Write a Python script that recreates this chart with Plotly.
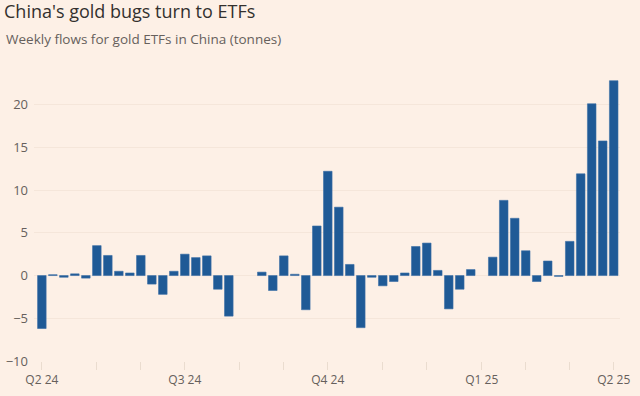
import plotly.graph_objects as go
import datetime as dt

# Weekly dates (Tuesdays) from 2 Apr 2024 to 1 Apr 2025
start = dt.date(2024, 4, 2)
weeks = [(start + dt.timedelta(days=7 * i)).isoformat() for i in range(53)]

flows = [
    -6.2, 0.1, -0.2, 0.2, -0.3, 3.5, 2.35, 0.5, 0.3, 2.35,
    -1.0, -2.2, 0.5, 2.5, 2.1, 2.3, -1.6, -4.75, None, None,
    0.4, -1.75, 2.3, 0.15, -4.0, 5.8, 12.2, 8.0, 1.3, -6.1,
    -0.2, -1.2, -0.7, 0.3, 3.4, 3.8, 0.6, -3.9, -1.6, 0.7,
    None, 2.15, 8.8, 6.7, 2.9, -0.7, 1.7, -0.1, 4.0, 11.9,
    20.1, 15.75, 22.8,
]

tick_dates = ["2024-04-02", "2024-05-07", "2024-06-04", "2024-07-02", "2024-08-06",
              "2024-09-03", "2024-10-01", "2024-11-05", "2024-12-03", "2025-01-07",
              "2025-02-04", "2025-03-04", "2025-04-01"]
tick_labels = ["Q2 24", "", "", "Q3 24", "", "", "Q4 24", "", "", "Q1 25", "", "", "Q2 25"]

y_ticks = [-10, -5, 0, 5, 10, 15, 20]

bg = "#fdf0e6"
L, R, T, B = 34, 20, 79, 35
plot_w = 640 - L - R

fig = go.Figure()
fig.add_trace(go.Bar(
    x=weeks, y=flows,
    marker=dict(color="#1f5a96", line=dict(color="#3b6fa6", width=0.6)),
    width=[7 * 24 * 3600 * 1000 * 0.78] * len(weeks),
))

fig.update_layout(
    width=640, height=396,
    paper_bgcolor=bg, plot_bgcolor=bg,
    margin=dict(l=L, r=R, t=T, b=B, autoexpand=False),
    showlegend=False,
    font=dict(family="Open Sans, sans-serif"),
    title=dict(
        text="China's gold bugs turn to ETFs",
        x=4 / 640, xref="container", xanchor="left",
        y=1 - 12 / 396, yref="container", yanchor="middle",
        font=dict(size=18, color="#33302e"),
    ),
)

fig.add_annotation(
    text="Weekly flows for gold ETFs in China (tonnes)",
    xref="paper", yref="paper", x=(4 - L) / plot_w, y=1.0,
    xanchor="left", yanchor="bottom", yshift=29,
    showarrow=False, font=dict(size=13.5, color="#66605c"),
)

fig.update_xaxes(
    type="date", automargin=False,
    range=["2024-03-28", "2025-04-05"],
    tickvals=tick_dates, ticktext=tick_labels,
    ticks="outside", ticklen=8, tickcolor="#eadccf", tickwidth=1,
    showgrid=False, showline=False, zeroline=False,
    tickfont=dict(size=12, color="#66605c"),
)
fig.update_yaxes(
    range=[-10, 23], automargin=False,
    tickvals=y_ticks,
    showgrid=True, gridcolor="#f5e6da", gridwidth=1,
    zeroline=False, showline=False,
    ticks="", ticklabelstandoff=5,
    tickfont=dict(size=13, color="#66605c"),
)

fig.write_html(
    "out.html",
    config={"displayModeBar": False},
    post_script="document.body.style.margin='0';document.body.style.background='" + bg + "';",
)
